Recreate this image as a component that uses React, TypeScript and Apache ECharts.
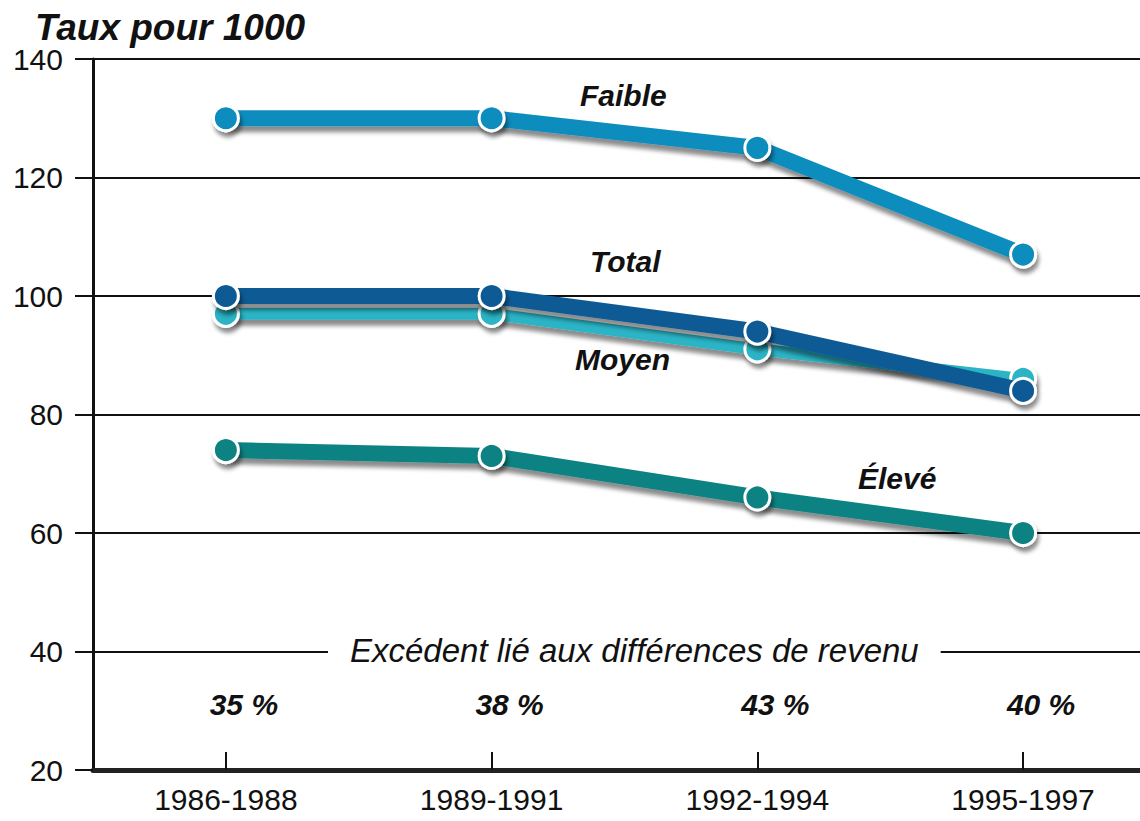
import React, { useEffect, useRef } from "react";
import * as echarts from "echarts";

const categories = ["1986-1988", "1989-1991", "1992-1994", "1995-1997"];
const faible = [130, 130, 125, 107];
const total = [100, 100, 94, 84];
const moyen = [97, 97, 91, 86];
const eleve = [74, 73, 66, 60];
const excedent = ["35 %", "38 %", "43 %", "40 %"];
const excedentY = 31;
const yTicks = [20, 40, 60, 80, 100, 120, 140];

const FONT = "'Liberation Sans', Arial, sans-serif";

function pairs(vals: number[]) {
  return vals.map((v, i) => [i, v]);
}

function lineSeries(name: string, vals: number[], color: string, width: number, z: number) {
  return {
    name,
    type: "line",
    data: pairs(vals),
    z,
    symbol: "circle",
    symbolSize: 25,
    lineStyle: {
      color,
      width,
      shadowColor: "rgba(0,0,0,0.45)",
      shadowBlur: 4,
      shadowOffsetX: 2,
      shadowOffsetY: 6,
      cap: "butt",
    },
    itemStyle: {
      color,
      borderColor: "#ffffff",
      borderWidth: 3,
      shadowColor: "rgba(0,0,0,0.45)",
      shadowBlur: 4,
      shadowOffsetX: 2,
      shadowOffsetY: 5,
    },
    emphasis: { disabled: true },
  };
}

export default function App() {
  const ref = useRef<HTMLDivElement>(null);
  useEffect(() => {
    if (!ref.current) return;
    const chart = echarts.init(ref.current, null, { renderer: "svg" });
    const labelStyle = (x: number, y: number, text: string) => ({
      type: "text",
      left: x,
      top: y,
      style: {
        text,
        font: `italic bold 30px ${FONT}`,
        fill: "#111",
      },
      z: 100,
    });
    chart.setOption({
      animation: false,
      backgroundColor: "#ffffff",
      grid: { left: 93, right: 0, top: 59, bottom: 51, containLabel: false },
      xAxis: {
        type: "value",
        min: -0.5,
        max: 3.44,
        splitLine: { show: false },
        axisLine: { show: true, onZero: false, lineStyle: { color: "#222", width: 5 } },
        axisTick: {
          show: true,
          inside: true,
          length: 18,
          customValues: [0, 1, 2, 3],
          lineStyle: { color: "#111", width: 2 },
        },
        axisLabel: {
          customValues: [0, 1, 2, 3],
          formatter: (v: number) => categories[Math.round(v)] ?? "",
          fontFamily: FONT,
          fontSize: 30,
          color: "#111",
          margin: 14,
        },
      },
      yAxis: {
        type: "value",
        min: 20,
        max: 140,
        interval: 20,
        axisLine: { show: true, onZero: false, lineStyle: { color: "#111", width: 3 } },
        axisTick: { show: true, length: 18, lineStyle: { color: "#111", width: 2 } },
        splitLine: { show: true, lineStyle: { color: "#111", width: 2 } },
        axisLabel: {
          fontFamily: FONT,
          fontSize: 30,
          color: "#111",
          margin: 30,
          formatter: (v: number) => (yTicks.includes(v) ? String(v) : ""),
        },
      },
      graphic: [
        {
          type: "text",
          left: 35,
          top: 9,
          style: { text: "Taux pour 1000", font: `italic bold 37px ${FONT}`, fill: "#111" },
        },
        labelStyle(580, 80, "Faible"),
        labelStyle(590, 246, "Total"),
        labelStyle(575, 344, "Moyen"),
        labelStyle(858, 463, "Élevé"),
        {
          type: "text",
          left: 328,
          top: 634,
          z: 100,
          style: {
            text: "Excédent lié aux différences de revenu",
            font: `italic 33px ${FONT}`,
            fill: "#111",
            backgroundColor: "#ffffff",
            padding: [0, 22, 0, 22],
          },
        },
      ],
      series: [
        lineSeries("Faible", faible, "#0a8cbe", 16, 3),
        lineSeries("Moyen", moyen, "#2ab4c6", 12, 2),
        lineSeries("Total", total, "#0b5a94", 16, 4),
        lineSeries("Élevé", eleve, "#0c8282", 16, 3),
        {
          name: "Excédent",
          type: "scatter",
          data: excedent.map((_, i) => [i, excedentY]),
          symbol: "circle",
          symbolSize: 1,
          silent: true,
          itemStyle: { color: "rgba(255,255,255,0)", opacity: 1 },
          label: {
            show: true,
            position: "inside",
            offset: [18, 0],
            formatter: (p: any) => excedent[p.dataIndex],
            fontFamily: FONT,
            fontStyle: "italic",
            fontWeight: "bold",
            fontSize: 30,
            color: "#111111",
            opacity: 1,
            textBorderWidth: 0,
          },
        },
      ],
    });
    return () => chart.dispose();
  }, []);
  return (
    <div
      ref={ref}
      style={{ position: "fixed", left: 0, top: 0, width: 1140, height: 821, background: "#fff" }}
    />
  );
}
